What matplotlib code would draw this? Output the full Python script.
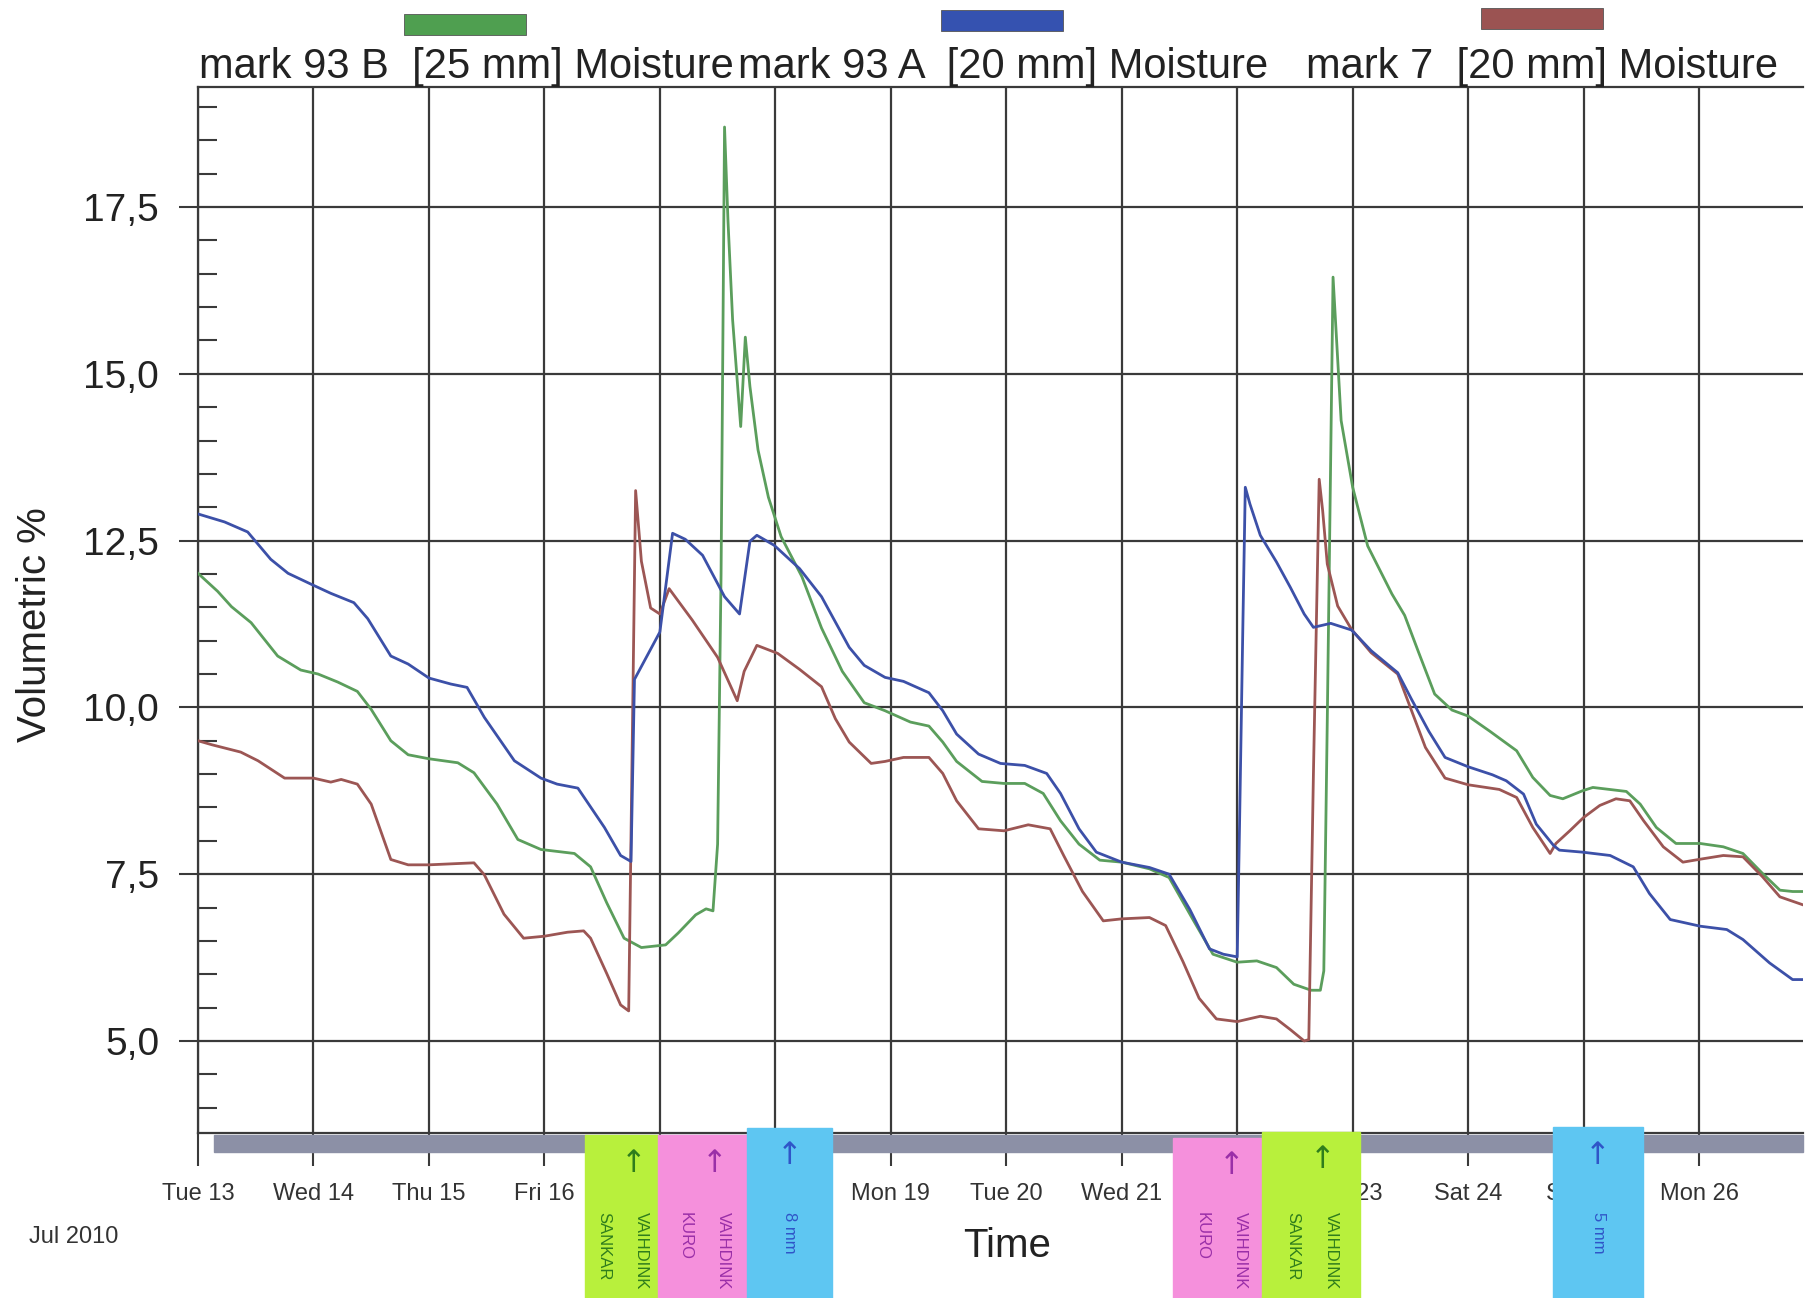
import matplotlib
matplotlib.use("Agg")
import matplotlib.pyplot as plt
from matplotlib.patches import Rectangle
from matplotlib.ticker import MultipleLocator, FuncFormatter

plt.rcParams["font.family"] = ["Liberation Sans", "DejaVu Sans"]

# time in days from Tue 13 Jul 2010 00:00
day_labels = ["Tue 13", "Wed 14", "Thu 15", "Fri 16", "Sat 17", "Sun 18", "Mon 19",
              "Tue 20", "Wed 21", "Thu 22", "Fri 23", "Sat 24", "Sun 25", "Mon 26"]

t_93a = [0, .23, .43, .63, .78, 1.0, 1.15, 1.35, 1.47, 1.67, 1.82, 2.0, 2.19, 2.33, 2.48,
         2.74, 2.97, 3.11, 3.29, 3.52, 3.66, 3.75, 3.78, 4.0, 4.11, 4.22, 4.37, 4.56, 4.69,
         4.78, 4.84, 4.99, 5.21, 5.4, 5.64, 5.77, 5.95, 6.11, 6.33, 6.45, 6.57, 6.76, 6.95,
         7.16, 7.35, 7.47, 7.63, 7.78, 8.0, 8.24, 8.41, 8.59, 8.76, 8.88, 9.0, 9.02, 9.05,
         9.07, 9.11, 9.2, 9.34, 9.46, 9.58, 9.66, 9.81, 9.99, 10.16, 10.39, 10.51, 10.66,
         10.8, 11.0, 11.21, 11.33, 11.48, 11.59, 11.74, 11.79, 11.99, 12.23, 12.43, 12.57,
         12.75, 13.01, 13.24, 13.38, 13.61, 13.81, 13.9]
moist_93a = [12.9, 12.78, 12.63, 12.22, 12.01, 11.83, 11.71, 11.57, 11.33, 10.77, 10.65,
             10.44, 10.35, 10.3, 9.85, 9.2, 8.94, 8.85, 8.79, 8.2, 7.78, 7.69, 10.42, 11.13,
             12.61, 12.52, 12.28, 11.66, 11.4, 12.49, 12.58, 12.43, 12.08, 11.66, 10.9,
             10.63, 10.45, 10.39, 10.22, 9.95, 9.6, 9.3, 9.16, 9.13, 9.01, 8.71, 8.18, 7.83,
             7.68, 7.6, 7.5, 6.97, 6.38, 6.3, 6.26, 8.21, 11.33, 13.3, 13.05, 12.58, 12.18,
             11.8, 11.4, 11.2, 11.26, 11.16, 10.85, 10.52, 10.12, 9.64, 9.25, 9.11, 8.99,
             8.9, 8.7, 8.25, 7.93, 7.86, 7.83, 7.78, 7.61, 7.21, 6.82, 6.72, 6.67, 6.52,
             6.17, 5.92, 5.92]

t_93b = [0, .17, .29, .46, .69, .89, 1.04, 1.21, 1.38, 1.5, 1.67, 1.82, 2.0, 2.25, 2.39,
         2.59, 2.77, 2.97, 3.26, 3.4, 3.54, 3.69, 3.84, 4.05, 4.16, 4.31, 4.4, 4.46, 4.5,
         4.53, 4.56, 4.59, 4.63, 4.70, 4.74, 4.78, 4.85, 4.94, 5.05, 5.23, 5.4, 5.58, 5.77,
         5.95, 6.17, 6.33, 6.45, 6.57, 6.79, 6.98, 7.16, 7.32, 7.47, 7.63, 7.81, 8.0, 8.24,
         8.41, 8.62, 8.79, 9.0, 9.17, 9.34, 9.49, 9.64, 9.72, 9.75, 9.78, 9.83, 9.9, 10.0,
         10.13, 10.34, 10.45, 10.57, 10.71, 10.86, 11.0, 11.19, 11.42, 11.56, 11.71, 11.82,
         11.99, 12.08, 12.37, 12.49, 12.63, 12.8, 13.01, 13.21, 13.38, 13.55, 13.7, 13.81,
         13.9]
moist_93b = [12.01, 11.74, 11.51, 11.27, 10.77, 10.56, 10.5, 10.38, 10.24, 9.97, 9.5, 9.29,
             9.23, 9.17, 9.02, 8.55, 8.02, 7.87, 7.81, 7.61, 7.07, 6.54, 6.4, 6.44, 6.62,
             6.89, 6.98, 6.95, 7.95, 12.0, 18.7, 17.29, 15.81, 14.21, 15.55, 14.81, 13.86,
             13.15, 12.56, 11.96, 11.19, 10.54, 10.07, 9.95, 9.78, 9.72, 9.48, 9.19, 8.89,
             8.86, 8.86, 8.71, 8.3, 7.95, 7.71, 7.68, 7.58, 7.45, 6.81, 6.3, 6.18, 6.2,
             6.1, 5.85, 5.76, 5.76, 6.05, 9.8, 16.45, 14.3, 13.3, 12.42, 11.7, 11.38, 10.83,
             10.2, 9.96, 9.87, 9.64, 9.35, 8.95, 8.68, 8.63, 8.75, 8.8, 8.74, 8.55, 8.2,
             7.96, 7.96, 7.91, 7.81, 7.51, 7.26, 7.24, 7.24]

t_7 = [0, .12, .37, .52, .75, 1.0, 1.15, 1.24, 1.38, 1.5, 1.67, 1.82, 2.0, 2.39, 2.48, 2.65,
       2.82, 3.0, 3.2, 3.34, 3.4, 3.54, 3.66, 3.73, 3.79, 3.84, 3.92, 4.0, 4.08, 4.28, 4.5,
       4.67, 4.73, 4.84, 5.02, 5.21, 5.4, 5.52, 5.64, 5.83, 5.95, 6.11, 6.33, 6.45, 6.57,
       6.76, 6.98, 7.19, 7.38, 7.5, 7.66, 7.84, 8.0, 8.24, 8.38, 8.53, 8.67, 8.82, 9.0, 9.2,
       9.34, 9.46, 9.58, 9.62, 9.66, 9.71, 9.74, 9.78, 9.87, 9.99, 10.16, 10.39, 10.51,
       10.63, 10.8, 11.0, 11.27, 11.42, 11.56, 11.71, 11.76, 11.88, 12.0, 12.14, 12.28,
       12.4, 12.52, 12.69, 12.86, 13.03, 13.21, 13.38, 13.55, 13.7, 13.9]
moist_7 = [9.5, 9.44, 9.33, 9.2, 8.94, 8.94, 8.88, 8.92, 8.85, 8.55, 7.72, 7.64, 7.64, 7.67,
           7.49, 6.9, 6.54, 6.57, 6.63, 6.65, 6.54, 6.01, 5.54, 5.45, 13.25, 12.19, 11.49,
           11.4, 11.78, 11.31, 10.75, 10.1, 10.54, 10.93, 10.81, 10.57, 10.31, 9.83, 9.48,
           9.16, 9.19, 9.25, 9.25, 9.01, 8.6, 8.18, 8.15, 8.24, 8.18, 7.77, 7.24, 6.8, 6.83,
           6.85, 6.73, 6.19, 5.64, 5.33, 5.29, 5.37, 5.33, 5.17, 5.0, 5.02, 9.0, 13.42,
           12.95, 12.15, 11.52, 11.17, 10.82, 10.5, 9.95, 9.4, 8.94, 8.84, 8.77, 8.65, 8.2,
           7.81, 7.96, 8.15, 8.35, 8.53, 8.63, 8.6, 8.3, 7.91, 7.68, 7.73, 7.78, 7.76, 7.46,
           7.16, 7.04]

series_names = ["mark 93 B  [25 mm] Moisture", "mark 93 A  [20 mm] Moisture",
                "mark 7  [20 mm] Moisture"]
series_colors = ["#5b9e5c", "#3c50a8", "#9c5654"]
legend_colors = ["#4f9f50", "#3552b0", "#9b5352"]

W, H = 1816, 1298


def fx(px):
    return px / W


def fy(py):
    return 1 - py / H


fig = plt.figure(figsize=(W / 100, H / 100), dpi=100)
ax = fig.add_axes([fx(198), fy(1133), fx(1803) - fx(198), fy(87) - fy(1133)])

ax.plot(t_93b, moist_93b, color=series_colors[0], lw=2.0, zorder=3)
ax.plot(t_93a, moist_93a, color=series_colors[1], lw=2.0, zorder=4)
ax.plot(t_7, moist_7, color=series_colors[2], lw=2.0, zorder=3)

ax.set_xlim(0, 13.9)
ax.set_ylim(3.62, 19.3)

grid_c = "#3a3a3a"
ax.set_xticks(range(len(day_labels)))
ax.set_xticklabels(day_labels, fontsize=17, color="#333333")
ax.set_yticks([5.0, 7.5, 10.0, 12.5, 15.0, 17.5])
ax.yaxis.set_major_formatter(FuncFormatter(lambda v, p: f"{v:.1f}".replace(".", ",")))
ax.yaxis.set_minor_locator(MultipleLocator(0.5))
ax.tick_params(axis="x", which="major", direction="out", length=24, width=1.5,
               color=grid_c, pad=12)
ax.tick_params(axis="y", which="major", direction="out", length=14, width=1.5,
               color=grid_c, pad=14, labelsize=28, labelcolor="#222222")
ax.tick_params(axis="y", which="minor", direction="in", length=14, width=1.5, color=grid_c)
ax.grid(True, which="major", color=grid_c, lw=1.6)

for side in ["left", "bottom", "top"]:
    ax.spines[side].set_color(grid_c)
    ax.spines[side].set_linewidth(1.6)
ax.spines["right"].set_visible(False)

# grey band under the x axis
fig.add_artist(Rectangle((fx(214), fy(1152)), fx(1803) - fx(214), fy(1135) - fy(1152),
                         transform=fig.transFigure, color="#8c90a6", zorder=1))

# legend
legend_x = [199, 738, 1306]
rect_x = [404, 941, 1481]
rect_y = [14, 10, 8]
for name, lc, tx, rx, ry in zip(series_names, legend_colors, legend_x, rect_x, rect_y):
    fig.add_artist(Rectangle((fx(rx), fy(ry + 21)), fx(122), 21 / H,
                             transform=fig.transFigure, facecolor=lc,
                             edgecolor="#555555", lw=0.6))
    fig.text(fx(tx), fy(67), name, fontsize=30, ha="left", va="center", color="#222222")

fig.text(fx(35), fy(625), "Volumetric %", fontsize=29, rotation=90,
         ha="center", va="center", color="#222222")
fig.text(fx(1007), fy(1246), "Time", fontsize=29, ha="center", va="center", color="#222222")
fig.text(fx(29), fy(1237), "Jul 2010", fontsize=17, ha="left", va="center", color="#333333")

# sticky notes stuck on the printout
notes = [
    (585, 658, 1135, "#b8f03c", "#2f7d1c", ["VAIHDINK", "SANKAR"]),
    (658, 748, 1135, "#f590dc", "#9a2fa8", ["VAIHDINK", "KURO"]),
    (747, 832, 1128, "#5ec6f2", "#2f55c8", ["8 mm"]),
    (1173, 1267, 1138, "#f590dc", "#9a2fa8", ["VAIHDINK", "KURO"]),
    (1262, 1360, 1132, "#b8f03c", "#2f7d1c", ["VAIHDINK", "SANKAR"]),
    (1553, 1643, 1127, "#5ec6f2", "#2f55c8", ["5 mm"]),
]
for x0, x1, top, fc, ink, words in notes:
    fig.add_artist(Rectangle((fx(x0), 0), fx(x1 - x0), fy(top),
                             transform=fig.transFigure, color=fc, zorder=5))
    xc = (x0 + x1) / 2
    if len(words) == 2:
        arrow_x, cols = xc + 12, [xc + 20, xc - 18]
    else:
        arrow_x, cols = xc, [xc]
    fig.text(fx(arrow_x), fy(top + 28), "\u2191", fontsize=22, color=ink,
             family=["DejaVu Sans"], ha="center", va="center", zorder=6)
    for cx, word in zip(cols, words):
        fig.text(fx(cx), fy(1212), word, fontsize=12, color=ink, rotation=270,
                 ha="center", va="top", zorder=6)

fig.savefig("out.png", dpi=100)
